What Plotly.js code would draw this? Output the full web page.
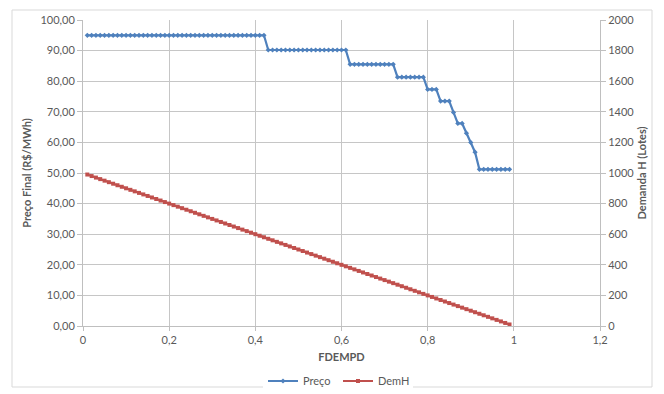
<!DOCTYPE html>
<html>
<head>
<meta charset="utf-8">
<script src="https://cdn.plot.ly/plotly-3.0.1.min.js"></script>
<style>
  html, body { margin: 0; padding: 0; background: #ffffff; }
  #chart { width: 664px; height: 394px; }
</style>
</head>
<body>
<div id="chart"></div>
<script>
// FDEMPD values (x)
const fdempd = [
  0.01,0.02,0.03,0.04,0.05,0.06,0.07,0.08,0.09,0.10,
  0.11,0.12,0.13,0.14,0.15,0.16,0.17,0.18,0.19,0.20,
  0.21,0.22,0.23,0.24,0.25,0.26,0.27,0.28,0.29,0.30,
  0.31,0.32,0.33,0.34,0.35,0.36,0.37,0.38,0.39,0.40,
  0.41,0.42,0.43,0.44,0.45,0.46,0.47,0.48,0.49,0.50,
  0.51,0.52,0.53,0.54,0.55,0.56,0.57,0.58,0.59,0.60,
  0.61,0.62,0.63,0.64,0.65,0.66,0.67,0.68,0.69,0.70,
  0.71,0.72,0.73,0.74,0.75,0.76,0.77,0.78,0.79,0.80,
  0.81,0.82,0.83,0.84,0.85,0.86,0.87,0.88,0.89,0.90,
  0.91,0.92,0.93,0.94,0.95,0.96,0.97,0.98,0.99
];

// Preço (R$/MWh), left axis
const preco = [
  95.0,95.0,95.0,95.0,95.0,95.0,95.0,95.0,95.0,95.0,
  95.0,95.0,95.0,95.0,95.0,95.0,95.0,95.0,95.0,95.0,
  95.0,95.0,95.0,95.0,95.0,95.0,95.0,95.0,95.0,95.0,
  95.0,95.0,95.0,95.0,95.0,95.0,95.0,95.0,95.0,95.0,
  95.0,95.0,90.2,90.2,90.2,90.2,90.2,90.2,90.2,90.2,
  90.2,90.2,90.2,90.2,90.2,90.2,90.2,90.2,90.2,90.2,
  90.2,85.5,85.5,85.5,85.5,85.5,85.5,85.5,85.5,85.5,
  85.5,85.5,81.3,81.3,81.3,81.3,81.3,81.3,81.3,77.3,
  77.3,77.3,73.5,73.5,73.5,69.8,66.2,66.2,63.0,60.0,
  56.8,51.2,51.2,51.2,51.2,51.2,51.2,51.2,51.2
];

// DemH (Lotes), right axis
const demH = [
  990,980,970,960,950,940,930,920,910,900,
  890,880,870,860,850,840,830,820,810,800,
  790,780,770,760,750,740,730,720,710,700,
  690,680,670,660,650,640,630,620,610,600,
  590,580,570,560,550,540,530,520,510,500,
  490,480,470,460,450,440,430,420,410,400,
  390,380,370,360,350,340,330,320,310,300,
  290,280,270,260,250,240,230,220,210,200,
  190,180,170,160,150,140,130,120,110,100,
  90,80,70,60,50,40,30,20,10
];

const seriesNames = ["Preço", "DemH"];
const titles = {
  x: "FDEMPD",
  y: "Preço Final (R$/MWh)",
  y2: "Demanda H (Lotes)"
};

const font = "Lato, 'Open Sans', 'Liberation Sans', sans-serif";
const textColor = "#595959";
const gridColor = "#c6c6c6";

const traces = [
  {
    x: fdempd, y: preco, name: seriesNames[0], type: "scatter", mode: "lines+markers",
    line: { color: "#4F81BD", width: 2.2 },
    marker: { symbol: "diamond", size: 4, color: "#4F81BD" },
    yaxis: "y"
  },
  {
    x: fdempd, y: demH, name: seriesNames[1], type: "scatter", mode: "lines+markers",
    line: { color: "#C0504D", width: 2.2 },
    marker: { symbol: "square", size: 4, color: "#C0504D" },
    yaxis: "y2"
  }
];

const L = 83, R = 64, T = 20, B = 68, W = 664, H = 394;
const pw = W - L - R, ph = H - T - B;
const px = v => (v - L) / pw;
const py = v => (H - B - v) / ph;

const layout = {
  width: W, height: H,
  margin: { l: L, r: R, t: T, b: B, pad: 0, autoexpand: false },
  paper_bgcolor: "#ffffff",
  plot_bgcolor: "#ffffff",
  separators: ",.",
  font: { family: font, size: 11, color: textColor },
  showlegend: true,
  legend: {
    orientation: "h", x: px(338), xanchor: "center",
    yref: "container", y: (H - 381) / H, yanchor: "middle",
    font: { family: font, size: 11, color: textColor },
    itemwidth: 30, tracegroupgap: 0,
    entrywidth: 30, entrywidthmode: "pixels"
  },
  xaxis: {
    range: [0, 1.2], dtick: 0.2, tick0: 0,
    showgrid: true, gridcolor: gridColor, gridwidth: 1,
    showline: true, linecolor: "#bfbfbf", linewidth: 1,
    zeroline: false,
    ticks: "outside", ticklen: 4, tickcolor: "#bfbfbf",
    tickfont: { family: font, size: 11, color: textColor },
    title: { text: "<b>" + titles.x + "</b>", standoff: 8, font: { family: font, size: 11, color: textColor } }
  },
  yaxis: {
    range: [0, 100], dtick: 10, tick0: 0, tickformat: ".2f",
    showgrid: true, gridcolor: gridColor, gridwidth: 1,
    showline: true, linecolor: "#bfbfbf", linewidth: 1,
    zeroline: false,
    ticks: "outside", ticklen: 5, tickcolor: "#bfbfbf",
    tickfont: { family: font, size: 11, color: textColor },
    title: { text: "<b>" + titles.y + "</b>", standoff: 6, font: { family: font, size: 11, color: textColor } }
  },
  yaxis2: {
    overlaying: "y", side: "right",
    range: [0, 2000], dtick: 200, tick0: 0,
    showgrid: false,
    showline: true, linecolor: "#bfbfbf", linewidth: 1,
    zeroline: false,
    ticks: "outside", ticklen: 5, tickcolor: "#bfbfbf",
    tickfont: { family: font, size: 11, color: textColor },
    title: { text: "<b>" + titles.y2 + "</b>", standoff: 4, font: { family: font, size: 11, color: textColor } }
  },
  shapes: [
    {
      type: "rect", xref: "paper", yref: "paper",
      x0: px(12), x1: px(652), y0: py(387), y1: py(10),
      line: { color: "#d9d9d9", width: 1 }, fillcolor: "rgba(0,0,0,0)", layer: "below"
    }
  ]
};

Plotly.newPlot("chart", traces, layout, { displayModeBar: false, staticPlot: true });
</script>
</body>
</html>
